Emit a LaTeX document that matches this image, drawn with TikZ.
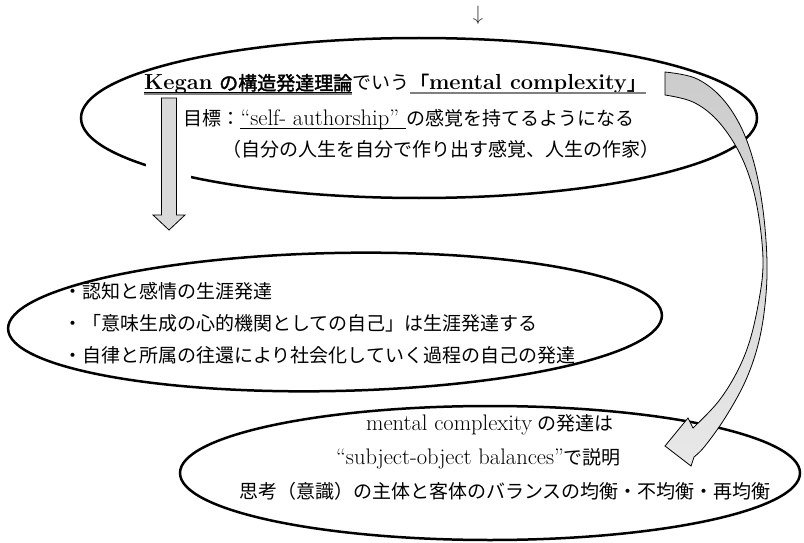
\documentclass[tikz,border=0pt]{standalone}
\usepackage{fontspec}
\newfontfamily\jp[AutoFakeBold=2]{Noto Sans CJK JP}
\newcommand\J[1]{{\jp\fontsize{19}{23}\selectfont #1}}
\newcommand\BL[1]{{\fontsize{21.8}{26}\selectfont\bfseries #1}}
\begin{document}
\begin{tikzpicture}[x=1pt,y=-1pt,
  txt/.style={font=\fontsize{22.5}{26}\selectfont, inner sep=0pt, anchor=base west},
  oval/.style={draw=black, line width=2.5pt},
  blockarrow/.style={draw=black, line width=0.8pt, fill=gray!30, line join=miter},
  curvarrow/.style={draw=black, line width=0.8pt, top color=gray!40, bottom color=gray!18},
  ulblack/.style={draw=black, line width=1.3pt},
  ulgray/.style={draw=gray, line width=2pt}]
\useasboundingbox (0,0) rectangle (804,543);

% ovals
\draw[oval] (419,118) ellipse [x radius=338, y radius=80];
\draw[oval, rotate around={1.2:(335,322)}] (335,322) ellipse [x radius=327, y radius=69];
\draw[oval] (490,473) ellipse [x radius=310, y radius=67];

% gap of the top oval round the down arrow
\fill[white] (146,150) rectangle (191,192);

% straight block arrow
\draw[blockarrow] (161.5,98) -- (176.5,98) -- (176.5,215) -- (185,215) -- (169,230)
  -- (153,215) -- (161.5,215) -- cycle;

% curved block arrow
\draw[curvarrow] (665,72)
  -- plot[smooth, tension=0.6] coordinates {(665,72) (695,78) (720,96) (740,125) (754,163) (763,210) (767,262) (765,305) (758,345) (745,382) (725,418) (705,446) (694,457)}
  -- (691,466) -- (665,446) -- (688,418)
  -- plot[smooth, tension=0.6] coordinates {(693,428) (718,402) (737,372) (750,340) (759,300) (763,265) (760,225) (752,185) (738,150) (717,120) (693,102) (665,95)}
  -- cycle;

% top small arrow
\node[font=\fontsize{20}{24}\selectfont, inner sep=0pt, text=black!80] (toparrow) at (478,15) {$\downarrow$};

% top oval text
\node[txt] (k1) at (144,90) {\BL{Kegan} \J{\bfseries の構造発達理論}};
\node[txt] (k2) at (k1.base east) {\J{でいう}};
\node[txt] (k3) at (k2.base east) {\J{\bfseries 「}\BL{mental complexity}\J{\bfseries 」}};
\draw[ulgray] ([yshift=-4.5pt]k1.base west) -- ([yshift=-4.5pt]k1.base east);
\draw[ulblack] ([yshift=-2.5pt]k1.base west) -- ([yshift=-2.5pt]k1.base east);
\draw[ulgray] ([yshift=-3.5pt]k3.base west) -- ([yshift=-3.5pt]k3.base east);

\node[txt] (g1) at (183,125) {\J{目標：}};
\node[txt] (g2) at (g1.base east) {“self- authorship”\kern7pt};
\node[txt] (g3) at (g2.base east) {\J{の感覚を持てるようになる}};
\draw[line width=0.8pt] ([yshift=-3pt]g2.base west) -- ([yshift=-3pt]g2.base east);
\node[txt] (g4) at (222,157) {\J{（自分の人生を自分で作り出す感覚、人生の作家）}};

% middle oval text
\node[txt] (b1) at (63,298) {\J{・認知と感情の生涯発達}};
\node[txt] (b2) at (63,330) {\J{・「意味生成の心的機関としての自己」は生涯発達する}};
\node[txt] (b3) at (63,362) {\J{・自律と所属の往還により社会化していく過程の自己の発達}};

% bottom oval text
\node[txt] (c1) at (366,430) {mental complexity\kern5pt\J{の発達は}};
\node[txt] (c2) at (336,464) {“subject-object balances”\J{で説明}};
\node[txt] (c3) at (239,498) {\J{思考（意識）の主体と客体のバランスの均衡・不均衡・再均衡}};
\end{tikzpicture}
\end{document}
